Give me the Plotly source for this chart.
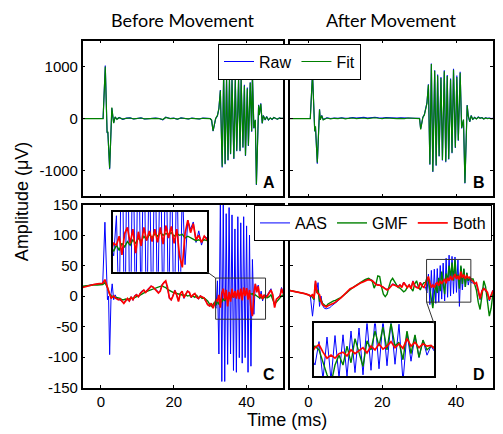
import plotly.graph_objects as go

# ---------------- data ----------------
A_t = [-5.0, 0.6, 1.2, 1.7, 1.9, 2.4, 3.0, 3.5, 3.9, 4.4,
       5.0, 6.0, 7.0, 8.0, 9.0, 10.0, 11.0, 12.0, 13.0, 14.0,
       15.0, 16.0, 17.0, 17.8, 19.0, 20.0, 21.0, 22.0, 23.0, 24.0,
       25.0, 26.0, 27.0, 28.0, 29.0, 30.0, 30.4, 30.8, 31.5, 32.0,
       32.4, 32.8, 33.3, 33.7, 34.1, 34.5, 34.9, 35.3, 35.6, 36.0,
       36.5, 36.9, 37.3, 37.8, 38.2, 38.5, 39.0, 39.4, 39.7, 40.2,
       40.5, 41.0, 41.4, 41.6, 42.0, 42.4, 42.7, 43.3, 43.5, 43.9,
       44.3, 44.6, 45.1, 45.5, 46.0, 46.5, 47.0, 47.5, 48.0, 48.5,
       49.0, 49.5, 50.0]
A_fit = [0, 0, 1000, -270, -250, -960, 210, -90, 30, -15,
         15, -10, 5, 10, -5, 5, 10, -5, 0, 10,
         5, 0, -20, 20, 0, 5, -10, 10, 0, -5,
         5, 0, -5, 5, 0, 0, -30, -240, 0, 60,
         190, 540, -930, 860, -870, 770, -800, 770, -680, 750,
         -770, 750, -620, 750, -620, 750, -555, 630, -710, 580,
         -520, 690, -245, 860, -180, -25, -1270, 255, 70, 285,
         -90, 55, -25, 35, -25, 10, -15, 20, 0, -10,
         10, 0, 5]
A_raw = [0, 0, 1020, -280, -260, -975, 200, -85, 25, -10,
         20, -15, 8, 12, -8, 8, 12, -8, 0, 12,
         8, 0, -25, 25, 0, 8, -12, 12, 0, -8,
         8, 0, -8, 8, 0, 0, -35, -245, -5, 55,
         195, 550, -945, 870, -880, 780, -810, 780, -690, 760,
         -780, 760, -630, 760, -630, 760, -565, 650, -720, 600,
         -530, 700, -255, 870, -190, -30, -1280, 265, 65, 295,
         -95, 60, -30, 40, -30, 12, -18, 22, 0, -12,
         12, 0, 5]

B_t = [-5.0, 0.5, 1.1, 1.5, 1.7, 1.9, 2.4, 3.0, 3.2, 3.6,
       4.0, 5.0, 6.0, 7.0, 8.0, 9.0, 10.0, 11.0, 12.0, 13.0,
       14.0, 15.0, 16.0, 17.0, 18.0, 19.0, 20.0, 21.0, 22.0, 23.0,
       24.0, 25.0, 26.0, 27.0, 28.0, 29.0, 30.1, 30.4, 31.0, 31.4,
       32.1, 32.5, 32.9, 33.3, 33.7, 34.2, 34.6, 35.0, 35.4, 35.9,
       36.3, 36.8, 37.2, 37.6, 38.0, 38.5, 38.9, 39.3, 39.8, 40.2,
       40.6, 41.1, 41.5, 42.0, 42.4, 43.0, 43.3, 43.7, 44.1, 44.5,
       45.0, 45.5, 46.0, 46.5, 47.0, 47.5, 48.0, 48.5, 49.0, 49.5,
       50.0]
B_fit = [0, 0, 860, -180, -245, -150, -850, 175, -25, 55,
         -25, 10, -5, 5, 0, 10, -5, 5, 10, 0,
         5, 10, 0, 5, 15, 5, 0, 10, 5, -5,
         0, 5, 0, 10, 5, 0, 0, -210, 20, 70,
         290, 650, -880, 1050, -1020, 920, -900, 830, -720, 780,
         -800, 910, -830, 820, -780, 750, -660, 940, -560, 800,
         -420, 880, -180, -20, -1240, 255, 50, -60, 55, -15,
         20, -10, 25, 5, 15, -10, 10, 0, 5, -5,
         0]
B_raw = [0, 0, 880, -190, -250, -160, -870, 180, -20, 60,
         -20, 15, 0, 10, 5, 15, 5, 10, 20, 10,
         15, 25, 10, 15, 25, 15, 10, 20, 15, 5,
         10, 15, 10, 15, 10, 5, 5, -200, 25, 75,
         300, 660, -890, 1060, -1030, 930, -910, 850, -730, 800,
         -810, 930, -840, 840, -790, 770, -670, 960, -570, 830,
         -430, 900, -190, -25, -1250, 260, 55, -65, 60, -20,
         25, -5, 30, 10, 20, -5, 15, 5, 10, 0,
         5]

C_t = [-5, -4, -3, -2, -1, 0, 0.5, 1.1, 1.5, 1.8,
       2.1, 2.4, 2.8, 3.1, 3.5, 3.9, 4.3,
       4.8, 5.3, 5.8, 6.3, 6.8, 7.3, 7.8, 8.3, 8.8, 9.3,
       9.8, 10.3, 10.8, 11.3, 11.8, 12.3, 12.8, 13.3, 13.8, 14.3,
       14.8, 15.3, 15.8, 16.3, 16.8, 17.3, 17.8, 18.3, 18.8, 19.3,
       19.8, 20.3, 20.8, 21.3, 21.8, 22.3, 22.8, 23.3, 23.8, 24.3,
       24.8, 25.3, 25.8, 26.3, 26.8, 27.3, 27.8, 28.3, 28.8, 29.3,
       29.8, 30.3, 30.8,
       31.2, 31.6, 32.0, 32.4, 32.8, 33.2, 33.6, 34.0, 34.4, 34.8,
       35.2, 35.6, 36.0, 36.4, 36.8, 37.2, 37.6, 38.0, 38.4, 38.8,
       39.2, 39.6, 40.0, 40.4, 40.8, 41.2, 41.6, 42.0, 42.4, 42.8,
       43.2, 43.6, 44.0, 44.4, 44.8, 45.2,
       45.7, 46.2, 46.7, 47.2, 47.7, 48.2, 48.7, 49.2, 49.6, 50.0]
C_aas = [15, 17, 18, 19, 19, 20, 20, 121, 20, -6,
         0, -96, 4, 20, -6, 2, -3,
         -5, -7, -9, -11, -7, -5, -9, -1, -7, 1,
         3, -2, 5, 9, 9, 7, 11, 15, 17, 14,
         11, 10, 6, 9, 19, 23, 24, 12, -4, -7,
         1, 10, 1, -8, 5, 7, -4, 4, 9, 5,
         -3, 3, 3, -3, -5, 1, -1, -4, -9, -13,
         -17, -13, -19,
         -12, -20, 25, -95, 160, -140, 155, -140, 135, -112,
         145, -95, 133, -122, 110, -125, 130, -101, 120, -110,
         130, -101, 115, -125, 100, -115, 60, -30, 20, 10,
         18, -5, 8, -8, 2, 0,
         2, 8, 12, 0, -17, -6, -2, 2, 14, 5]
C_gmf = [16, 17, 18, 18, 18, 18, 19, 22, 18, 14,
         8, 3, 0, -1, -1, -2, -3,
         -3, -4, -6, -6, -5, -6, -5, -3, -4, -2,
         -1, 0, 2, 4, 5, 7, 8, 9, 10, 12,
         13, 14, 15, 16, 17, 15, 14, 11, 9, 7,
         6, 5, 4, 3, 2, 2, 1, 2, 0, 1,
         -1, 0, -2, 1, -3, -1, -4, -3, -6, -8,
         -13, -17, -14,
         -10, -15, -8, -14, -6, -10, -4, -8, -2, -6,
         0, -4, 2, -2, 4, 0, 5, 2, 6, 3,
         5, 4, 6, 2, 5, 3, 4, 0, 2, 0,
         -1, -3, -2, -4, -2, -3,
         -3, -1, 2, -6, -13, -10, -6, -4, 0, 2]
C_both = [14, 16, 18, 19, 20, 20, 21, 27, 20, 12,
          6, 2, -4, -2, 0, -3, -4,
          -6, -5, -8, -12, -8, -4, -8, -2, -6, 0,
          2, -1, 4, 8, 10, 6, 10, 14, 16, 15,
          12, 9, 5, 8, 18, 22, 25, 14, -3, -6,
          0, 9, 2, -9, 4, 8, -3, 3, 8, 6,
          -2, 2, 4, -2, -4, 0, -2, -3, -8, -14,
          -16, -12, -20,
          -14, -6, -8, 2, -19, 5, 12, -6, 10, -17,
          7, -9, 12, -3, 8, -4, 10, -5, 12, -7,
          14, 0, 13, -6, 10, -20, -33, 5, 20, 6,
          16, -2, 3, -5, 2, -2,
          0, 6, 10, 2, -19, -5, -3, 0, 12, 4]

D_t = [-5, -4, -3, -2, -1, 0, 0.5, 1.1, 1.5, 1.9,
       2.3, 2.6, 3.0, 3.4, 3.8, 4.3, 4.8,
       5.3, 5.8, 6.3, 6.8, 7.3, 7.8, 8.3, 8.8, 9.3, 9.8,
       10.3, 10.8, 11.3, 11.8, 12.3, 12.8, 13.3, 13.8, 14.3, 14.8,
       15.3, 15.8, 16.3, 16.8, 17.3, 17.8, 18.3, 18.8, 19.3, 19.8,
       20.3, 20.8, 21.3, 21.8, 22.3, 22.8, 23.3, 23.8, 24.3, 24.8,
       25.3, 25.8, 26.3, 26.8, 27.3, 27.8, 28.3, 28.8, 29.3, 29.8,
       30.3, 30.8, 31.3,
       31.7, 32.1, 32.5, 32.9, 33.3, 33.7, 34.1, 34.5, 34.9, 35.3,
       35.7, 36.1, 36.5, 36.9, 37.3, 37.7, 38.1, 38.5, 38.9, 39.3,
       39.7, 40.1, 40.5, 40.9, 41.3, 41.7, 42.1, 42.5, 42.9, 43.3,
       43.7, 44.1,
       44.6, 45.0, 45.5, 46.0, 46.5, 47.0, 47.5, 48.0, 48.5, 49.0, 49.5, 50.0]
D_aas = [9, 8, 7, 6, 4, 2, 1, -33, -10, 25,
         10, 22, -17, 0, -15, -20, -21,
         -20, -19, -16, -14, -12, -9, -6, -3, 0, 3,
         6, 9, 11, 13, 15, 17, 19, 21, 23, 24,
         26, 27, 28, 27, 26, 23, 20, 19, 18, 17,
         15, 12, 11, 13, 17, 20, 19, 18, 16, 19,
         15, 23, 18, 15, 19, 13, 25, 17, 15, 14,
         23, 17, 15,
         15, 5, 36, -14, 42, -15, 44, -12, 45, -10,
         50, -5, 54, -8, 62, -2, 67, 0, 65, 4,
         64, 6, 59, -17, 48, 10, 44, 15, 38, 18,
         30, 22,
         22, 21, 20, 8, -6, 10, 14, 8, 4, -8, 0, 10]
D_gmf = [9, 8, 7, 6, 4, 2, 0, -2, -6, 20,
         5, 10, -9, -6, -12, -15, -17,
         -13, -11, -9, -8, -7, -6, -4, -2, 0, 2,
         5, 8, 11, 13, 15, 17, 19, 22, 24, 26,
         27, 28, 29, 27, 24, 13, 20, 33, 32, 15,
         3, -1, 3, 15, 25, 29, 24, 17, 14, 13,
         10, 7, 9, 15, 18, 12, 8, 20, 25, 15,
         10, 18, 22,
         22, 30, 25, 8, -8, -20, 5, 18, 5, 30,
         8, 40, 20, 3, 37, 25, 50, 30, 55, 25,
         60, 30, 35, 12, 50, 20, 45, 15, 38, 25,
         30, 28,
         28, 18, 10, -10, -22, 0, 25, 15, -10, -33, -20, 5]
D_both = [9, 8, 7, 6, 4, 2, 0, 2, -4, 25,
          6, 4, 2, -8, -14, -16, -18,
          -16, -15, -13, -12, -10, -8, -5, -3, 0, 3,
          6, 9, 12, 13, 15, 17, 19, 21, 22, 23,
          25, 26, 27, 26, 25, 22, 19, 18, 18, 16,
          14, 11, 10, 12, 16, 19, 18, 17, 15, 18,
          14, 22, 17, 14, 18, 12, 24, 16, 14, 13,
          22, 16, 14,
          20, 28, 32, 22, 14, 18, 14, 20, 22, 17,
          25, 20, 24, 28, 21, 30, 25, 33, 26, 30,
          36, 28, 33, 27, 40, 30, 35, 28, 33, 30,
          31, 26,
          24, 20, 22, 10, -4, 8, 12, 10, 6, -6, 2, 9]

# zoomed regions shown in the insets
C_zoom_t = [31.5, 45.2]
C_zoom_v = [-38, 29.5]
D_zoom_t = [32.0, 44.0]
D_zoom_v = [-10, 60]

x_ticks = [0, 20, 40]
x_ticktext = ["0", "20", "40"]
yA_ticks = [-1000, 0, 1000]
yA_ticktext = ["-1000", "0", "1000"]
yC_ticks = [-150, -100, -50, 0, 50, 100, 150]
yC_ticktext = ["-150", "-100", "-50", "0", "50", "100", "150"]

for tt, series in [(A_t, [A_fit, A_raw]), (B_t, [B_fit, B_raw]),
                   (C_t, [C_aas, C_gmf, C_both]), (D_t, [D_aas, D_gmf, D_both])]:
    for s in series:
        assert len(s) == len(tt), (len(s), len(tt))

# ---------------- layout geometry ----------------
W, H = 503, 434
def fx(p):
    return p / W
def fy(p):
    return 1 - p / H

colL = [fx(82.7), fx(283)]
colR = [fx(290), fx(493)]
rowT = [fy(195), fy(33)]
rowB = [fy(394), fy(203.5)]
insC_x = [fx(113), fx(207)]
insC_y = [fy(273.5), fy(211)]
insD_x = [fx(314), fx(434)]
insD_y = [fy(382.3), fy(327.3)]

BLUE = "#0000ff"
GREEN = "#008000"
RED = "#ff0000"
TICKFONT = dict(family="Liberation Sans, Arial", size=15, color="black")
LEGFONT = dict(family="Liberation Sans, Arial", size=16, color="black")

fig = go.Figure()

def add_pair(t, raw, fit, xa, ya, show):
    fig.add_trace(go.Scatter(x=t, y=raw, mode="lines", name="Raw", legend="legend",
                             line=dict(color=BLUE, width=1.1), xaxis=xa, yaxis=ya,
                             showlegend=show))
    fig.add_trace(go.Scatter(x=t, y=fit, mode="lines", name="Fit", legend="legend",
                             line=dict(color=GREEN, width=1.2), xaxis=xa, yaxis=ya,
                             showlegend=show))

def add_trio(t, aas, gmf, both, xa, ya, show):
    fig.add_trace(go.Scatter(x=t, y=aas, mode="lines", name="AAS", legend="legend2",
                             line=dict(color=BLUE, width=1), xaxis=xa, yaxis=ya,
                             showlegend=show))
    fig.add_trace(go.Scatter(x=t, y=gmf, mode="lines", name="GMF", legend="legend2",
                             line=dict(color=GREEN, width=1.4), xaxis=xa, yaxis=ya,
                             showlegend=show))
    fig.add_trace(go.Scatter(x=t, y=both, mode="lines", name="Both", legend="legend2",
                             line=dict(color=RED, width=1.7), xaxis=xa, yaxis=ya,
                             showlegend=show))

add_pair(A_t, A_raw, A_fit, "x", "y", True)
add_pair(B_t, B_raw, B_fit, "x2", "y2", False)
add_trio(C_t, C_aas, C_gmf, C_both, "x3", "y3", True)
add_trio(D_t, D_aas, D_gmf, D_both, "x4", "y4", False)
add_trio(C_t, C_aas, C_gmf, C_both, "x5", "y5", False)
add_trio(D_t, D_aas, D_gmf, D_both, "x6", "y6", False)

def frame(**kw):
    d = dict(showline=True, mirror="allticks", linecolor="black", linewidth=1.5,
             ticks="inside", ticklen=3, tickwidth=1, tickcolor="black",
             showgrid=False, zeroline=False, tickfont=TICKFONT, fixedrange=True)
    d.update(kw)
    return d

def inset(**kw):
    d = dict(showline=True, mirror=True, linecolor="black", linewidth=1.5,
             ticks="", showticklabels=False, showgrid=False, zeroline=False,
             fixedrange=True)
    d.update(kw)
    return d

layout = dict(
    width=W, height=H, margin=dict(l=0, r=0, t=0, b=0),
    paper_bgcolor="white", plot_bgcolor="white",
    xaxis=frame(domain=colL, anchor="y", range=[-5, 50], tickvals=x_ticks, showticklabels=False),
    yaxis=frame(domain=rowT, anchor="x", range=[-1500, 1500], tickvals=yA_ticks, ticktext=yA_ticktext),
    xaxis2=frame(domain=colR, anchor="y2", range=[-5, 50], tickvals=x_ticks, showticklabels=False),
    yaxis2=frame(domain=rowT, anchor="x2", range=[-1500, 1500], tickvals=yA_ticks, showticklabels=False),
    xaxis3=frame(domain=colL, anchor="y3", range=[-5, 50], tickvals=x_ticks, ticktext=x_ticktext),
    yaxis3=frame(domain=rowB, anchor="x3", range=[-150, 150], tickvals=yC_ticks, ticktext=yC_ticktext),
    xaxis4=frame(domain=colR, anchor="y4", range=[-5, 50], tickvals=x_ticks, ticktext=x_ticktext),
    yaxis4=frame(domain=rowB, anchor="x4", range=[-150, 150], tickvals=yC_ticks, showticklabels=False),
    xaxis5=inset(domain=insC_x, anchor="y5", range=C_zoom_t),
    yaxis5=inset(domain=insC_y, anchor="x5", range=C_zoom_v),
    xaxis6=inset(domain=insD_x, anchor="y6", range=D_zoom_t),
    yaxis6=inset(domain=insD_y, anchor="x6", range=D_zoom_v),
    legend=dict(x=fx(218), y=fy(36), xanchor="left", yanchor="top", orientation="h",
                bgcolor="white", bordercolor="black", borderwidth=1, font=LEGFONT,
                itemwidth=30, tracegroupgap=0),
    legend2=dict(x=fx(254), y=fy(204), xanchor="left", yanchor="top", orientation="h",
                 bgcolor="white", bordercolor="black", borderwidth=1, font=LEGFONT,
                 itemwidth=30, tracegroupgap=0),
)
fig.update_layout(**layout)

# zoom rectangles in panels C and D
fig.add_shape(type="rect", xref="x3", yref="y3", x0=C_zoom_t[0], x1=C_zoom_t[1],
              y0=C_zoom_v[0], y1=C_zoom_v[1], line=dict(color="#333333", width=1))
fig.add_shape(type="rect", xref="x4", yref="y4", x0=D_zoom_t[0], x1=D_zoom_t[1],
              y0=D_zoom_v[0], y1=D_zoom_v[1], line=dict(color="#333333", width=1))

def to_paper(v, dom, rng):
    return dom[0] + (v - rng[0]) / (rng[1] - rng[0]) * (dom[1] - dom[0])

# connector lines between rectangles and insets
fig.add_shape(type="line", xref="paper", yref="paper",
              x0=insC_x[1], y0=insC_y[0],
              x1=to_paper(C_zoom_t[0], colL, [-5, 50]), y1=to_paper(C_zoom_v[1], rowB, [-150, 150]),
              line=dict(color="#333333", width=1))
fig.add_shape(type="line", xref="paper", yref="paper",
              x0=to_paper(D_zoom_t[0], colR, [-5, 50]), y0=to_paper(D_zoom_v[0], rowB, [-150, 150]),
              x1=insD_x[1], y1=insD_y[1],
              line=dict(color="#333333", width=1))

# panel letters
for letter, xr, yr in [("A", "x", "y"), ("B", "x2", "y2"), ("C", "x3", "y3"), ("D", "x4", "y4")]:
    fig.add_annotation(text="<b>%s</b>" % letter, xref=xr + " domain", yref=yr + " domain",
                       x=1, y=0, xanchor="right", yanchor="bottom", xshift=-6, yshift=3,
                       showarrow=False, font=dict(family="Liberation Sans, Arial", size=16, color="black"))

# column titles
fig.add_annotation(text="Before Movement", xref="paper", yref="paper",
                   x=(colL[0] + colL[1]) / 2, y=1, xanchor="center", yanchor="top", yshift=2,
                   showarrow=False, font=dict(family="Lato", size=18, color="black"))
fig.add_annotation(text="After Movement", xref="paper", yref="paper",
                   x=(colR[0] + colR[1]) / 2, y=1, xanchor="center", yanchor="top", yshift=2,
                   showarrow=False, font=dict(family="Lato", size=18, color="black"))

# axis titles
fig.add_annotation(text="Amplitude (\u03bcV)", xref="paper", yref="paper",
                   x=fx(22), y=fy(201), xanchor="center", yanchor="middle", textangle=-90,
                   showarrow=False, font=dict(family="Liberation Sans, Arial", size=18, color="black"))
fig.add_annotation(text="Time (ms)", xref="paper", yref="paper",
                   x=fx(287), y=0, xanchor="center", yanchor="bottom", yshift=-6,
                   showarrow=False, font=dict(family="Liberation Sans, Arial", size=18, color="black"))

fig.write_html("out.html", config={"displayModeBar": False},
               post_script="document.body.style.margin='0px';document.body.style.padding='0px';")
